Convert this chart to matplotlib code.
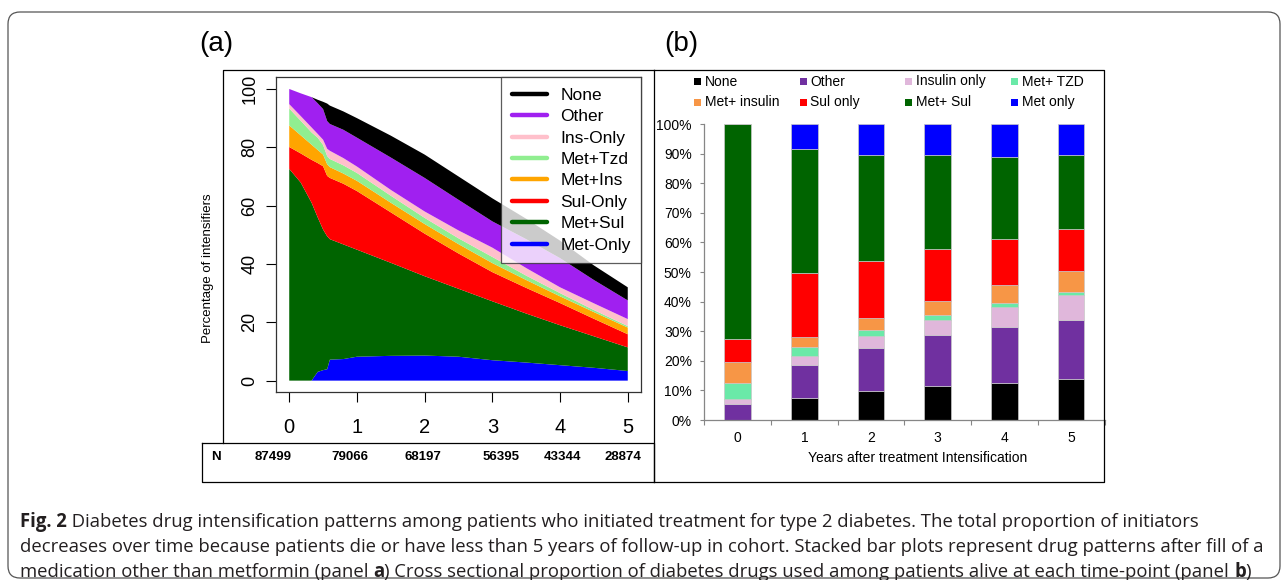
import matplotlib
matplotlib.use('Agg')
import numpy as np
import matplotlib.pyplot as plt
from matplotlib.lines import Line2D
from matplotlib.patches import FancyBboxPatch, Rectangle
from matplotlib.transforms import IdentityTransform

W, H = 1284, 580

# ---- panel (a): cumulative intensification patterns (% of initiators)
years = [0, 0.17, 0.33, 0.42, 0.5, 0.56, 0.6, 0.8, 1.0, 1.5, 2.0, 2.5, 3.0, 3.5, 4.0, 4.5, 5.0]
met_only = [0, 0, 0, 3.0, 3.6, 3.9, 7.2, 7.4, 8.2, 8.5, 8.6, 8.2, 7.0, 6.2, 5.3, 4.4, 3.3]
met_sul = [72.6, 67.9, 61.0, 53.0, 48.2, 45.6, 41.3, 39.3, 36.7, 31.9, 27.2, 23.3, 20.2, 16.8, 13.7, 10.8, 8.1]
sul_only = [7.5, 10.0, 14.7, 18.6, 21.7, 20.7, 21.0, 20.8, 20.1, 17.3, 14.6, 12.1, 10.0, 8.8, 7.6, 6.0, 4.5]
met_ins = [7.4, 6.2, 5.2, 4.5, 4.0, 4.0, 3.7, 3.5, 3.5, 3.3, 3.3, 3.2, 3.1, 2.7, 2.3, 2.3, 2.3]
met_tzd = [5.8, 5.0, 4.2, 4.2, 3.3, 2.8, 2.8, 2.8, 2.7, 2.4, 2.1, 2.0, 2.1, 1.5, 1.1, 0.7, 0.5]
ins_only = [1.5, 1.6, 1.7, 1.3, 1.8, 2.5, 2.8, 2.5, 2.2, 2.0, 2.2, 2.7, 3.2, 2.6, 2.0, 2.3, 2.4]
other = [5.2, 7.8, 10.4, 10.5, 10.5, 9.5, 9.2, 9.7, 9.9, 11.1, 11.5, 10.5, 9.0, 9.9, 10.0, 8.0, 6.4]
none = [0, 0, 0, 1.2, 2.5, 6.0, 6.3, 6.3, 6.7, 7.5, 8.0, 8.0, 7.9, 7.0, 6.0, 5.0, 4.5]
labels_a = ['Met-Only', 'Met+Sul', 'Sul-Only', 'Met+Ins', 'Met+Tzd', 'Ins-Only', 'Other', 'None']
colors_a = ['#0000FF', '#006400', '#FF0000', '#FFA500', '#90EE90', '#FFC0CB', '#A020F0', '#000000']
n_patients = [87499, 79066, 68197, 56395, 43344, 28874]
n_xpos = [273, 350, 423, 501, 562, 623]

# ---- panel (b): cross sectional proportions (%)
years_b = ['0', '1', '2', '3', '4', '5']
b_none = [0, 7.5, 9.8, 11.6, 12.6, 13.7]
b_other = [5.5, 11.1, 14.5, 17.0, 18.8, 20.2]
b_ins = [1.5, 2.9, 4.0, 5.1, 6.8, 8.3]
b_tzd = [5.4, 3.1, 2.2, 1.7, 1.3, 0.9]
b_metins = [7.2, 3.5, 4.1, 4.8, 6.1, 7.1]
b_sul = [7.8, 21.4, 19.0, 17.5, 15.5, 14.2]
b_metsul = [72.6, 41.9, 35.8, 31.7, 27.9, 25.0]
b_met = [0, 8.6, 10.6, 10.6, 11.0, 10.6]
labels_b = ['None', 'Other', 'Insulin only', 'Met+ TZD', 'Met+ insulin', 'Sul only', 'Met+ Sul', 'Met only']
colors_b = ['#000000', '#7030A0', '#E0B7DB', '#6AE9A8', '#F79646', '#FF0000', '#006400', '#0000FF']

plt.rcParams['font.family'] = ['Liberation Sans', 'DejaVu Sans']

fig = plt.figure(figsize=(W / 100, H / 100), dpi=100)
fig.patch.set_facecolor('white')


def fbox(x0, y0, x1, y1):
    # pixel box (top-left origin) -> figure fraction rect
    return [x0 / W, 1 - y1 / H, (x1 - x0) / W, (y1 - y0) / H]


def pline(xs, ys, **kw):
    fig.add_artist(Line2D(xs, [H - y for y in ys], transform=IdentityTransform(), **kw))


# outer rounded frame
fig.add_artist(FancyBboxPatch((8, H - 578), 1272, 566, boxstyle='round,pad=0,rounding_size=12',
                              transform=IdentityTransform(), fc='none', ec='#555555', lw=0.9))

# panel frames
pline([223, 223, 654], [443, 70, 70], color='black', lw=0.9)
pline([202, 654, 654, 202, 202], [443, 443, 482, 482, 443], color='black', lw=0.9)
pline([654, 654], [70, 482], color='black', lw=0.9)
pline([654, 1104, 1104, 654], [70, 70, 482, 482], color='black', lw=0.9)

# ---------------- panel (a)
ax_a = fig.add_axes(fbox(275.7, 77.3, 641.3, 392.3))
ax_a.stackplot(years, met_only, met_sul, sul_only, met_ins, met_tzd, ins_only, other, none,
               colors=colors_a, lw=0)
ax_a.set_xlim(-0.2, 5.2)
ax_a.set_ylim(-4, 104)
ax_a.set_xticks(range(6))
ax_a.set_yticks(range(0, 101, 20))
ax_a.tick_params(axis='x', labelsize=14.5, length=7.5, width=0.8, pad=11)
ax_a.tick_params(axis='y', labelsize=13, length=7.5, width=0.8, pad=5)
for lab in ax_a.get_yticklabels():
    lab.set_rotation(90)
    lab.set_va('center')
for s in ax_a.spines.values():
    s.set_linewidth(0.9)
    s.set_color('#333333')
handles = [Line2D([], [], color=c, lw=3.2, solid_capstyle='round') for c in colors_a[::-1]]
leg = ax_a.legend(handles, labels_a[::-1], loc='upper right', fontsize=12.5, frameon=True,
                  fancybox=False, borderaxespad=0, handlelength=2.0, handletextpad=0.8,
                  labelspacing=0.36, borderpad=0.6)
leg.get_frame().set_edgecolor('#333333')
leg.get_frame().set_linewidth(0.9)
fig.text(208 / W, 1 - 268 / H, 'Percentage of intensifiers', rotation=90, fontsize=9.5,
         ha='center', va='center')
fig.text(216 / W, 1 - 44 / H, '(a)', fontsize=20, ha='center', va='center')

fig.text(216 / W, 1 - 457 / H, 'N', fontsize=9.5, fontweight='bold', ha='center', va='center')
for xp, n in zip(n_xpos, n_patients):
    fig.text(xp / W, 1 - 457 / H, str(n), fontsize=9.5, fontweight='bold', ha='center', va='center')

# ---------------- panel (b)
ax_b = fig.add_axes(fbox(704.3, 124, 1104.5, 420))
xb = np.arange(len(years_b))
bottom = np.zeros(len(years_b))
for vals, c in zip([b_none, b_other, b_ins, b_tzd, b_metins, b_sul, b_metsul, b_met], colors_b):
    ax_b.bar(xb, vals, bottom=bottom, width=0.4, color=c, edgecolor='#C8C8C8', lw=0.5)
    bottom += np.array(vals)
ax_b.set_xlim(-0.5, 5.5)
ax_b.set_ylim(0, 100)
ax_b.set_yticks(range(0, 101, 10))
ax_b.set_yticklabels([f'{v}%' for v in range(0, 101, 10)])
ax_b.set_xticks(xb)
ax_b.set_xticklabels(years_b)
ax_b.set_xticks(np.arange(-0.5, 6, 1), minor=True)
ax_b.tick_params(axis='x', which='major', length=0, labelsize=10, pad=8)
ax_b.tick_params(axis='x', which='minor', length=3.5, width=0.8, color='#868686')
ax_b.tick_params(axis='y', length=3, width=0.8, color='#868686', labelsize=10, pad=6)
for s in ['top', 'right']:
    ax_b.spines[s].set_visible(False)
for s in ['left', 'bottom']:
    ax_b.spines[s].set_color('#868686')
    ax_b.spines[s].set_linewidth(0.9)
fig.text(917.5 / W, 1 - 458 / H, 'Years after treatment Intensification', fontsize=10,
         ha='center', va='center')
fig.text(681 / W, 1 - 44 / H, '(b)', fontsize=20, ha='center', va='center')

# legend of panel (b), 4 columns x 2 rows
for i, (lab, c) in enumerate(zip(labels_b, colors_b)):
    col, row = i % 4, i // 4
    mx = 694 + col * 105.5
    my = 81.5 + row * 20.7
    fig.add_artist(Rectangle((mx, H - my - 3.5), 7, 7, transform=IdentityTransform(),
                             fc=c, ec='none'))
    fig.text((mx + 11) / W, 1 - my / H, lab, fontsize=10, ha='left', va='center')

# ---------------- caption
cap_family = ['Open Sans', 'Liberation Sans']
caption = [
    [('Fig. 2', 'bold'), (' Diabetes drug intensification patterns among patients who initiated '
                         'treatment for type 2 diabetes. The total proportion of initiators', 'normal')],
    [('decreases over time because patients die or have less than 5 years of follow-up in cohort. '
      'Stacked bar plots represent drug patterns after fill of a', 'normal')],
    [('medication other than metformin (panel ', 'normal'), ('a', 'bold'),
     (') Cross sectional proportion of diabetes drugs used among patients alive at each time-point (panel ',
      'normal'), ('b', 'bold'), (')', 'normal')],
]
renderer = fig.canvas.get_renderer()
probe = fig.text(0, 0, caption[1][0][0], fontsize=12, family=cap_family)
cap_size = 12 * 1238 / probe.get_window_extent(renderer).width
probe.remove()
for k, runs in enumerate(caption):
    x = 20
    y = 522 + k * 25
    for txt, wt in runs:
        t = fig.text(x / W, 1 - y / H, txt, fontsize=cap_size, fontweight=wt, family=cap_family,
                     ha='left', va='center', color='#231F20')
        x = t.get_window_extent(renderer).x1

fig.savefig('out.png', dpi=100)
